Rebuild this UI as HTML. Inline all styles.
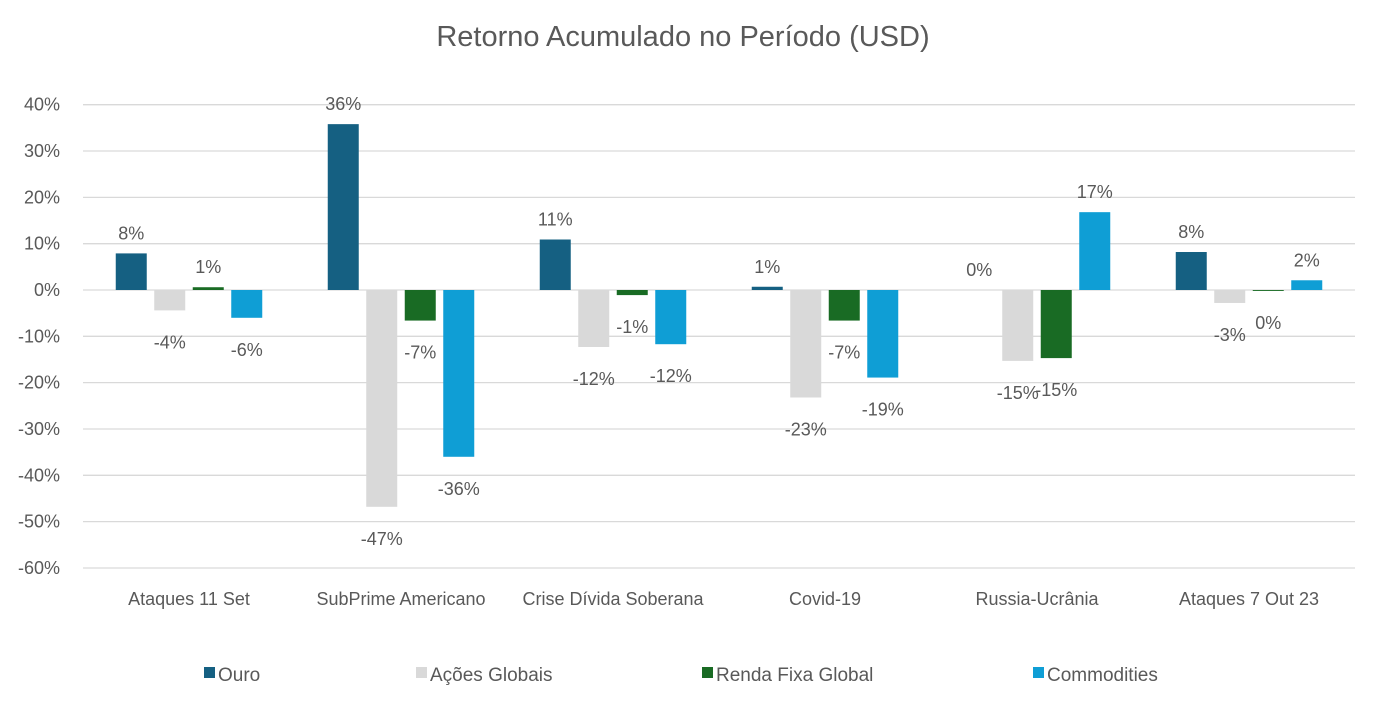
<!DOCTYPE html>
<html><head><meta charset="utf-8">
<style>
body{margin:0;background:#fff;font-family:"Liberation Sans",sans-serif;}
svg text{font-family:"Liberation Sans",sans-serif;fill:#595959;}
</style></head>
<body>
<svg id="chart" width="1383" height="706" xmlns="http://www.w3.org/2000/svg">
<text x="683" y="46" font-size="29" text-anchor="middle">Retorno Acumulado no Período (USD)</text>
<g id="grid"></g><g id="bars"></g><g id="labels"></g><g id="legend"></g>
</svg>
<script>
const categories=["Ataques 11 Set","SubPrime Americano","Crise Dívida Soberana","Covid-19","Russia-Ucrânia","Ataques 7 Out 23"];
const seriesNames=["Ouro","Ações Globais","Renda Fixa Global","Commodities"];
const ouro=[7.9,35.8,10.9,0.7,0,8.2];
const acoes=[-4.4,-46.8,-12.3,-23.2,-15.3,-2.8];
const renda=[0.6,-6.6,-1.1,-6.6,-14.7,-0.2];
const commodities=[-6,-36,-11.7,-18.9,16.8,2.1];
const yTicks=[40,30,20,10,0,-10,-20,-30,-40,-50,-60];
const colors=["#156082","#d9d9d9","#196b24","#0f9ed5"];
const series=[ouro,acoes,renda,commodities];
const NS="http://www.w3.org/2000/svg";
const x0=83,x1=1355,catW=(x1-x0)/categories.length;
const y=v=>290-v*4.633;
function mk(tag,attrs,parent,text){const e=document.createElementNS(NS,tag);for(const k in attrs)e.setAttribute(k,attrs[k]);if(text!==undefined)e.textContent=text;document.getElementById(parent).appendChild(e);return e;}
yTicks.forEach(t=>{
 const l=mk("line",{x1:x0,x2:x1,y1:y(t),y2:y(t),stroke:"#d9d9d9","stroke-width":1.3},"grid");
 
 
 const tx=mk("text",{x:60,y:y(t)+6,"font-size":18,"text-anchor":"end"},"grid",t+"%");
 
 
});
const bw=31,gap=7.5;
categories.forEach((c,i)=>{
 const cx=x0+catW*(i+0.5);
 const tx=mk("text",{x:cx,y:605,"font-size":18,"text-anchor":"middle"},"labels",c);
 
 
 const start=cx-(4*bw+3*gap)/2;
 series.forEach((s,j)=>{
  const v=s[i],bx=start+j*(bw+gap);
  const top=Math.min(y(v),y(0)),h=Math.abs(y(v)-y(0));
  const r=mk("rect",{x:bx,y:top,width:bw,height:Math.max(h,0),fill:colors[j]},"bars");
  
  
  const ly=v>=0?y(v)-14:y(v)+38;
  const lbl=Math.round(v)===0?"0%":Math.round(v)+"%";
  const lt=mk("text",{x:bx+bw/2,y:ly,"font-size":18,"text-anchor":"middle"},"labels",lbl);
  
  
 });
});
const legX=[218,430,716,1047];
seriesNames.forEach((n,j)=>{
 const r=mk("rect",{x:legX[j]-14,y:667,width:11,height:11,fill:colors[j]},"legend");
 
 
 const t=mk("text",{x:legX[j],y:681,"font-size":19},"legend",n);
 
 
});
</script>
</body></html>
